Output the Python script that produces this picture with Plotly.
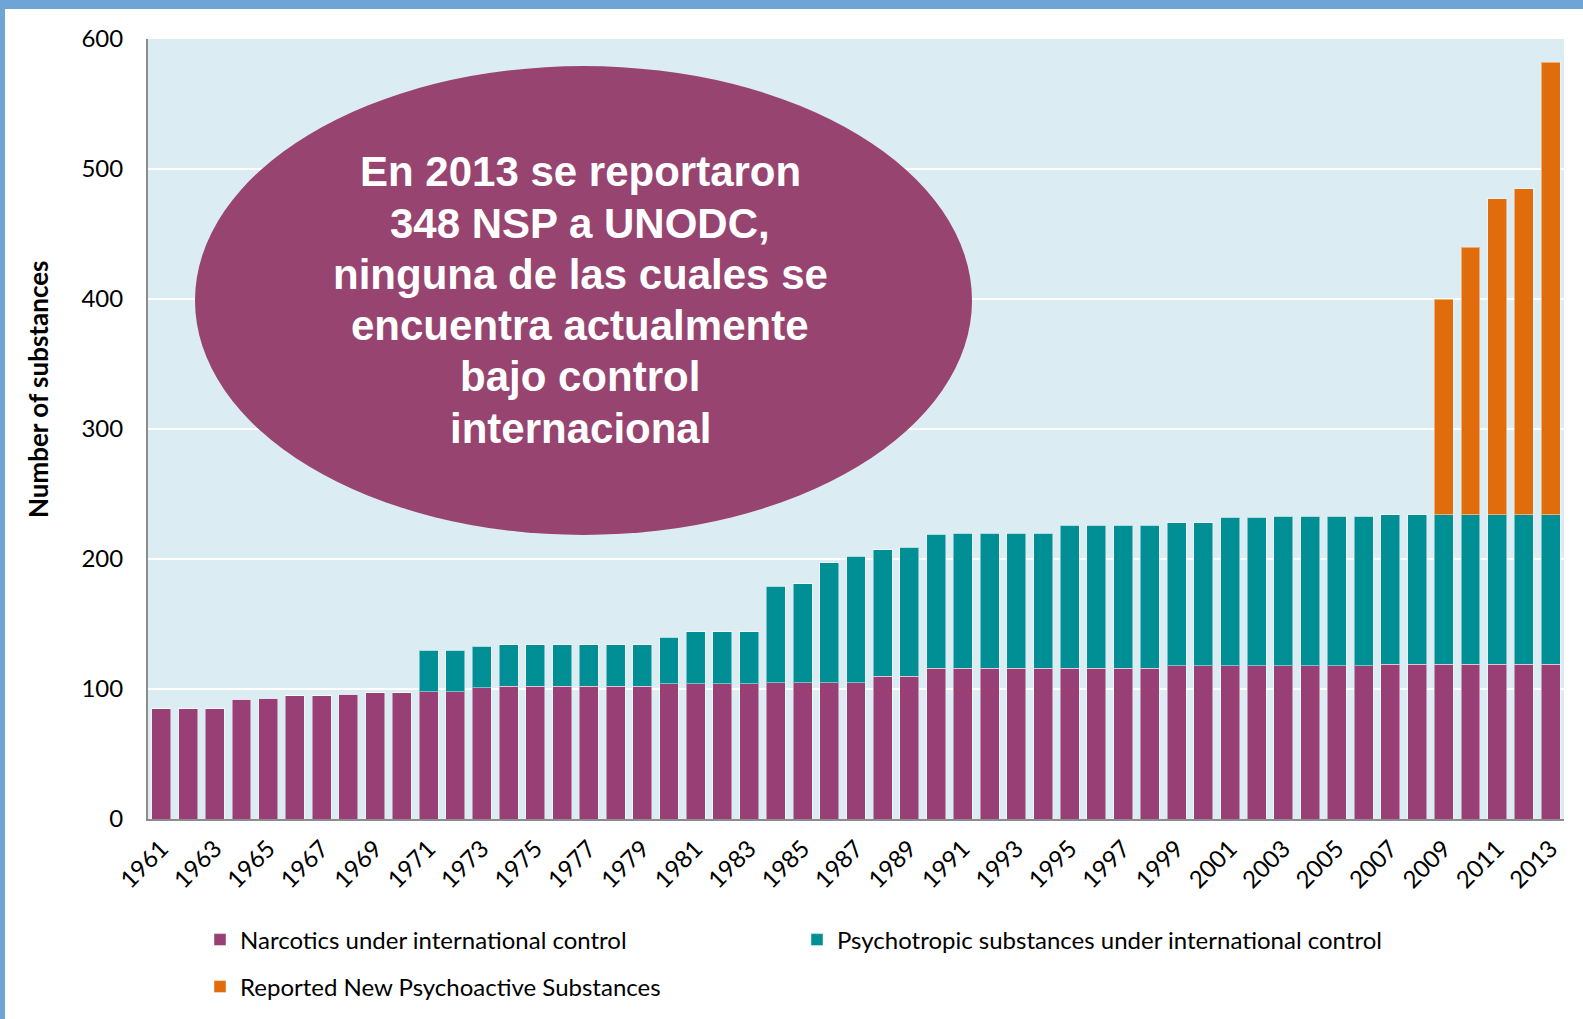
import plotly.graph_objects as go

years = [str(y) for y in range(1961, 2014)]
narcotics = [85, 85, 85, 92, 93, 95, 95, 96, 97, 97,
             98, 98, 101, 102, 102, 102, 102, 102, 102, 104,
             104, 104, 104, 105, 105, 105, 105, 110, 110, 116,
             116, 116, 116, 116, 116, 116, 116, 116, 118, 118,
             118, 118, 118, 118, 118, 118, 119, 119, 119, 119,
             119, 119, 119]
psychotropic = [0, 0, 0, 0, 0, 0, 0, 0, 0, 0,
                32, 32, 32, 32, 32, 32, 32, 32, 32, 36,
                40, 40, 40, 74, 76, 92, 97, 97, 99, 103,
                104, 104, 104, 104, 110, 110, 110, 110, 110, 110,
                114, 114, 115, 115, 115, 115, 115, 115, 115, 115,
                115, 115, 115]
nps = [0] * 48 + [166, 206, 243, 251, 348]
tick_years = [str(y) for y in range(1961, 2014, 2)]
bubble_lines = ["En 2013 se reportaron", "348 NSP a UNODC,", "ninguna de las cuales se",
                "encuentra actualmente", "bajo control", "internacional"]

W, H = 1583, 1019
L, R, T, B = 148, 1564, 39, 819


def px(x):
    return (x - L) / (R - L)


def py(y):
    return (B - y) / (B - T)


PURPLE = "#983F76"
TEAL = "#008F95"
ORANGE = "#E06C0C"
edge = dict(color="rgba(255,255,255,0.45)", width=1)

fig = go.Figure()
fig.add_trace(go.Bar(x=years, y=narcotics, name="Narcotics under international control",
                     marker=dict(color=PURPLE, line=edge), legend="legend"))
fig.add_trace(go.Bar(x=years, y=psychotropic, name="Psychotropic substances under international control",
                     marker=dict(color=TEAL, line=edge), legend="legend"))
fig.add_trace(go.Bar(x=years, y=nps, name="Reported New Psychoactive Substances",
                     marker=dict(color=ORANGE, line=edge), legend="legend2"))

shapes = [
    dict(type="circle", xref="paper", yref="paper", x0=px(195), x1=px(972), y0=py(535), y1=py(66),
         fillcolor="#984471", line=dict(width=0), layer="above"),
    dict(type="rect", xref="paper", yref="paper", x0=px(0), x1=px(W), y0=py(9), y1=py(0),
         fillcolor="#6FA4D6", line=dict(width=0)),
    dict(type="rect", xref="paper", yref="paper", x0=px(0), x1=px(5), y0=py(H), y1=py(0),
         fillcolor="#6FA4D6", line=dict(width=0)),
]

annotations = []
for i, line in enumerate(bubble_lines):
    annotations.append(dict(text=line, xref="paper", yref="paper", x=px(580), y=py(172 + i * 51.2),
                            xanchor="center", yanchor="middle", showarrow=False,
                            font=dict(family="Liberation Sans, Arial", size=42, color="white",
                                      weight="bold")))
annotations.append(dict(text="Number of substances", xref="paper", yref="paper", x=px(38), y=py(389),
                        xanchor="center", yanchor="middle", showarrow=False, textangle=-90,
                        font=dict(family="Lato", size=26, color="black", weight="bold")))

legend_common = dict(orientation="h", xanchor="left", yanchor="middle",
                     font=dict(size=24, color="black"), itemwidth=30,
                     bgcolor="rgba(0,0,0,0)", traceorder="normal")

fig.update_layout(
    width=W, height=H,
    margin=dict(l=L, r=W - R, t=T, b=H - B, autoexpand=False),
    barmode="stack", bargap=0.29,
    paper_bgcolor="white", plot_bgcolor="#DBEDF3",
    font=dict(family="Lato", color="black"),
    shapes=shapes, annotations=annotations,
    legend=dict(x=px(200), y=py(940), entrywidth=552, entrywidthmode="pixels", **legend_common),
    legend2=dict(x=px(200), y=py(987), **legend_common),
    showlegend=True,
)
fig.update_xaxes(type="category", tickvals=tick_years, ticktext=tick_years, tickangle=-45,
                 tickfont=dict(size=24), showline=True, linecolor="#8C8C8C", linewidth=2,
                 showgrid=False, ticks="", ticklabelstandoff=4)
fig.update_yaxes(range=[0, 600], dtick=100, tickfont=dict(size=24), showline=True,
                 linecolor="#8C8C8C", linewidth=2, gridcolor="white", gridwidth=2,
                 zeroline=False, ticks="", ticklabelstandoff=18)

fig.write_html("out.html", config={"displayModeBar": False},
               post_script="document.body.style.margin='0px';")
